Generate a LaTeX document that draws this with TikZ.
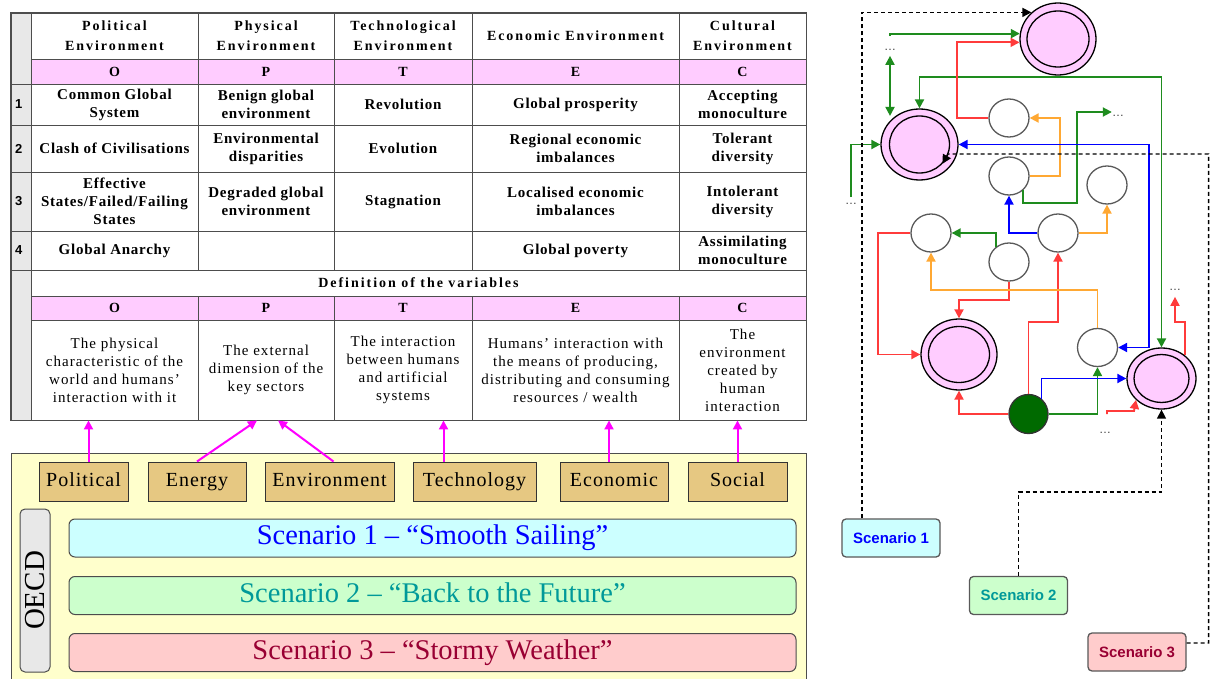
\documentclass[tikz,border=0pt]{standalone}
\usepackage{fontspec}
\setmainfont{Liberation Serif}
\newfontfamily\hdrfont[LetterSpace=14]{Liberation Serif}
\newfontfamily\rowfont[LetterSpace=5]{Liberation Serif}
\newfontfamily\deffont[LetterSpace=7]{Liberation Serif}
\newfontfamily\tanfont[LetterSpace=5]{Liberation Serif}
\newfontfamily\sansf{Liberation Sans}
\usepackage{tikz}
\usetikzlibrary{shapes.geometric, arrows.meta}

\definecolor{tline}{HTML}{4D4D4D}
\definecolor{pinkc}{HTML}{FFCCFF}
\definecolor{greyc}{HTML}{E8E8E8}
\definecolor{yelc}{HTML}{FFFFCC}
\definecolor{tanc}{HTML}{E6C882}
\definecolor{cyanc}{HTML}{CCFFFF}
\definecolor{mintc}{HTML}{CCFFCC}
\definecolor{rosec}{HTML}{FFCCCC}
\definecolor{sconetxt}{HTML}{0000FF}
\definecolor{sctwotxt}{HTML}{009999}
\definecolor{scthreetxt}{HTML}{990033}
\definecolor{cgreen}{HTML}{1E8C1E}
\definecolor{cred}{HTML}{FF3B3B}
\definecolor{corange}{HTML}{FFA833}
\definecolor{cblue}{HTML}{0000FF}
\definecolor{dkgreen}{HTML}{006A00}
\definecolor{cmag}{HTML}{FF00FF}

\begin{document}
\begin{tikzpicture}[
    x=1pt, y=-1pt,
    >={Triangle[length=9pt, width=9pt]},
    tcell/.style = {draw=tline, line width=0.9pt, inner sep=0pt, align=center},
    gcell/.style = {tcell, fill=greyc, minimum width=20pt, text width=12pt,
        align=left, font=\sansf\bfseries\fontsize{13}{15}\selectfont},
    w1/.style = {minimum width=167pt},
    w2/.style = {minimum width=136pt},
    w3/.style = {minimum width=138pt},
    w4/.style = {minimum width=207pt},
    w5/.style = {minimum width=127pt},
    hdr/.style = {font=\hdrfont\bfseries\fontsize{14}{20}\selectfont},
    rtx/.style = {font=\rowfont\bfseries\fontsize{15}{18}\selectfont},
    dtx/.style = {font=\deffont\fontsize{15}{18}\selectfont},
    ltr/.style = {fill=pinkc, font=\bfseries\fontsize{14}{16}\selectfont},
    tanbox/.style = {draw=black!80, fill=tanc, line width=1pt, inner sep=0pt,
        minimum height=39pt, text height=14pt, text depth=4pt,
        font=\tanfont\fontsize{20}{22}\selectfont},
    bar/.style = {draw=black!70, rounded corners=6pt, line width=1pt,
        minimum width=727pt, minimum height=38pt, inner sep=0pt,
        text height=19pt, text depth=6pt,
        font=\fontsize{28.5}{30}\selectfont},
    pinkst/.style = {ellipse, draw=black, line width=1.3pt, fill=pinkc, inner sep=0pt},
    pinkin/.style = {ellipse, draw=black, line width=1.3pt, inner sep=0pt},
    wst/.style = {ellipse, draw=black!65, line width=1.3pt, fill=white,
        minimum width=40pt, minimum height=38pt, inner sep=0pt},
    gst/.style = {circle, draw=black!80, line width=1.3pt, fill=dkgreen,
        minimum size=39pt, inner sep=0pt},
    dotl/.style = {inner sep=0pt, text=black!75, font=\sansf\fontsize{12}{12}\selectfont},
    scbox/.style = {draw=black!65, rounded corners=4pt, line width=1.3pt,
        minimum width=98pt, minimum height=38pt, inner sep=0pt,
        font=\sansf\bfseries\fontsize{15}{17}\selectfont},
    garr/.style = {draw=cgreen, line width=1.9pt},
    rarr/.style = {draw=cred, line width=1.9pt},
    oarr/.style = {draw=corange, line width=1.9pt},
    barr/.style = {draw=cblue, line width=1.9pt},
    darr/.style = {->, draw=black, line width=1.4pt, dash pattern=on 4pt off 3pt},
    marr/.style = {-{Triangle[length=9pt, width=9pt]}, draw=cmag, line width=2pt}
]

\fill[white] (0,0) rectangle (1210,679);
\useasboundingbox (0,0) rectangle (1210,679);

%% ---- TABLE: ROW NUMBER COLUMN ----
\node[gcell, minimum height=71pt]  (gc0) at (21,48.5)  {};
\node[gcell, minimum height=41pt]  (gc1) at (21,104.5) {1};
\node[gcell, minimum height=47pt]  (gc2) at (21,148.5) {2};
\node[gcell, minimum height=59pt]  (gc3) at (21,201.5) {3};
\node[gcell, minimum height=39pt]  (gc4) at (21,250.5) {4};
\node[gcell, minimum height=150pt] (gc5) at (21,345)   {};

%% ---- TABLE: HEADER ----
\node[tcell, w1, hdr, minimum height=46pt] (hO) at (114.5,36) {Political\\Environment};
\node[tcell, w2, hdr, minimum height=46pt] (hP) at (266,36)   {Physical\\Environment};
\node[tcell, w3, hdr, minimum height=46pt] (hT) at (403,36)   {Technological\\Environment};
\node[tcell, w4, hdr, minimum height=46pt] (hE) at (575.5,36) {Economic Environment};
\node[tcell, w5, hdr, minimum height=46pt] (hC) at (742.5,36) {Cultural\\Environment};

%% ---- TABLE: LETTER ROWS ----
\foreach \cx/\cw/\cl in {114.5/167/O, 266/136/P, 403/138/T, 575.5/207/E, 742.5/127/C} {
    \node[tcell, ltr, minimum width=\cw pt, minimum height=25pt] (pa\cl) at (\cx,71.5) {\cl};
    \node[tcell, ltr, minimum width=\cw pt, minimum height=24pt] (pb\cl) at (\cx,308)  {\cl};
}

%% ---- TABLE: ROW 1 ----
\node[tcell, w1, rtx, minimum height=41pt] (r1O) at (114.5,104.5) {Common Global\\System};
\node[tcell, w2, rtx, minimum height=41pt] (r1P) at (266,104.5)   {Benign global\\environment};
\node[tcell, w3, rtx, minimum height=41pt] (r1T) at (403,104.5)   {Revolution};
\node[tcell, w4, rtx, minimum height=41pt] (r1E) at (575.5,104.5) {Global prosperity};
\node[tcell, w5, rtx, minimum height=41pt] (r1C) at (742.5,104.5) {Accepting\\monoculture};

%% ---- TABLE: ROW 2 ----
\node[tcell, w1, rtx, minimum height=47pt] (r2O) at (114.5,148.5) {Clash of Civilisations};
\node[tcell, w2, rtx, minimum height=47pt] (r2P) at (266,148.5)   {Environmental\\disparities};
\node[tcell, w3, rtx, minimum height=47pt] (r2T) at (403,148.5)   {Evolution};
\node[tcell, w4, rtx, minimum height=47pt] (r2E) at (575.5,148.5) {Regional economic\\imbalances};
\node[tcell, w5, rtx, minimum height=47pt] (r2C) at (742.5,148.5) {Tolerant\\diversity};

%% ---- TABLE: ROW 3 ----
\node[tcell, w1, rtx, minimum height=59pt] (r3O) at (114.5,201.5) {Effective\\States/Failed/Failing\\States};
\node[tcell, w2, rtx, minimum height=59pt] (r3P) at (266,201.5)   {Degraded global\\environment};
\node[tcell, w3, rtx, minimum height=59pt] (r3T) at (403,201.5)   {Stagnation};
\node[tcell, w4, rtx, minimum height=59pt] (r3E) at (575.5,201.5) {Localised economic\\imbalances};
\node[tcell, w5, rtx, minimum height=59pt] (r3C) at (742.5,201.5) {Intolerant\\diversity};

%% ---- TABLE: ROW 4 ----
\node[tcell, w1, rtx, minimum height=39pt] (r4O) at (114.5,250.5) {Global Anarchy};
\node[tcell, w2, rtx, minimum height=39pt] (r4P) at (266,250.5)   {};
\node[tcell, w3, rtx, minimum height=39pt] (r4T) at (403,250.5)   {};
\node[tcell, w4, rtx, minimum height=39pt] (r4E) at (575.5,250.5) {Global poverty};
\node[tcell, w5, rtx, minimum height=39pt] (r4C) at (742.5,250.5) {Assimilating\\monoculture};

%% ---- TABLE: DEFINITIONS ----
\node[tcell, hdr, minimum width=775pt, minimum height=26pt] (dtit) at (418.5,283) {Definition of the variables};
\node[tcell, w1, dtx, minimum height=100pt] (dO) at (114.5,370) {The physical\\characteristic of the\\world and humans’\\interaction with it};
\node[tcell, w2, dtx, minimum height=100pt] (dP) at (266,370)   {The external\\dimension of the\\key sectors};
\node[tcell, w3, dtx, minimum height=100pt] (dT) at (403,370)   {The interaction\\between humans\\and artificial\\systems};
\node[tcell, w4, dtx, minimum height=100pt] (dE) at (575.5,370) {Humans’ interaction with\\the means of producing,\\distributing and consuming\\resources / wealth};
\node[tcell, w5, dtx, minimum height=100pt] (dC) at (742.5,370) {The\\environment\\created by\\human\\interaction};

\draw[tline, line width=1.4pt] (gc0.north west) rectangle (dC.south east);

%% ---- OECD PANEL ----
\draw[draw=tline, fill=yelc, line width=1pt] (11,453) rectangle (806,690);

\node[tanbox, minimum width=89pt]  (bPol) at (83.5,481.5)  {Political};
\node[tanbox, minimum width=98pt]  (bEne) at (197,481.5)   {Energy};
\node[tanbox, minimum width=129pt] (bEnv) at (329.5,481.5) {Environment};
\node[tanbox, minimum width=123pt] (bTec) at (474.5,481.5) {Technology};
\node[tanbox, minimum width=108pt] (bEco) at (614,481.5)   {Economic};
\node[tanbox, minimum width=99pt]  (bSoc) at (737.5,481.5) {Social};

\node[draw=black!70, fill=greyc, rounded corners=5pt, line width=1pt, rotate=90,
      minimum width=163pt, minimum height=30pt, inner sep=0pt,
      font=\fontsize{29}{30}\selectfont] (oecd) at (35,590.5) {OECD};

\node[bar, fill=cyanc, text=sconetxt]   (bar1) at (432.5,538)   {Scenario 1 – “Smooth Sailing”};
\node[bar, fill=mintc, text=sctwotxt]   (bar2) at (432.5,595.5) {Scenario 2 – “Back to the Future”};
\node[bar, fill=rosec, text=scthreetxt] (bar3) at (432.5,652.5) {Scenario 3 – “Stormy Weather”};

%% ---- MAGENTA LINKS ----
\draw[marr] ([xshift=5pt]bPol.north) -- ([xshift=5pt]bPol.north |- dO.south);
\draw[marr] (bEne.north) -- ([xshift=-9pt]dP.south);
\draw[marr] ([xshift=4pt]bEnv.north) -- ([xshift=12pt]dP.south);
\draw[marr] ([xshift=-31pt]bTec.north) -- ([xshift=-31pt]bTec.north |- dT.south);
\draw[marr] ([xshift=-5pt]bEco.north) -- ([xshift=-5pt]bEco.north |- dE.south);
\draw[marr] (bSoc.north) -- (bSoc.north |- dC.south);

%% ---- STATE GRAPH: NODES ----
\node[pinkst, minimum width=76pt, minimum height=72pt] (s1) at (1058,39) {};
\node[pinkin, minimum width=62pt, minimum height=56pt] (s1in) at (s1) {};
\node[pinkst, minimum width=77pt, minimum height=71pt] (s2) at (919.5,144.5) {};
\node[pinkin, minimum width=60pt, minimum height=57pt] (s2in) at (s2) {};
\node[pinkst, minimum width=76pt, minimum height=71pt] (s3) at (959,354.5) {};
\node[pinkin, minimum width=61pt, minimum height=56pt] (s3in) at (s3) {};
\node[pinkst, minimum width=69pt, minimum height=61pt] (s4) at (1161.5,378.5) {};
\node[pinkin, minimum width=55pt, minimum height=48pt] (s4in) at (s4) {};

\node[wst] (a) at (1009,118) {};
\node[wst] (b) at (1009,176) {};
\node[wst] (c) at (1107,185) {};
\node[wst] (d) at (931,233) {};
\node[wst] (e) at (1009,262) {};
\node[wst] (f) at (1058,233) {};
\node[wst] (h) at (1097.5,347.5) {};
\node[gst] (core) at (1028.5,414) {};

\node[dotl] (dt1) at (890,50)   {…};
\node[dotl] (dt2) at (1118,116) {…};
\node[dotl] (dt3) at (851,204)  {…};
\node[dotl] (dt4) at (1175,290) {…};
\node[dotl] (dt5) at (1105,433) {…};

\node[scbox, fill=cyanc, text=sconetxt]   (sc1) at (891,538)    {Scenario 1};
\node[scbox, fill=mintc, text=sctwotxt]   (sc2) at (1018.5,595.5) {Scenario 2};
\node[scbox, fill=rosec, text=scthreetxt] (sc3) at (1137,652)   {Scenario 3};

%% ---- STATE GRAPH: GREEN ----
\draw[garr, ->, shorten <=13pt] (dt1.north) |- (s1.172);
\draw[garr, <->, shorten <=5pt] (dt1.south) -- (dt1.south |- s2.130);
\draw[garr, <->] (s2.north) -- ++(0,-31) -| (s4.north);
\draw[garr, ->] (b.-45) -- ++(0,13) -| (1077,112) -- ([yshift=4pt]dt2.west);
\draw[garr, ->, shorten <=6pt] (dt3.north) |- (s2.west);
\draw[garr, ->] (e.130) |- (d.east);
\draw[garr, ->] (core.east) -| (h.south);

%% ---- STATE GRAPH: RED ----
\draw[rarr, ->] (a.west) -- ++(-31,0) |- (s1.185);
\draw[rarr, ->] (d.west) -- ++(-32,0) |- (s3.west);
\draw[rarr, ->] (e.south) -- ++(0,18) -| (s3.north);
\draw[rarr, ->] (core.west) -| (s3.south);
\draw[rarr, ->] (core.north) -- ++(0,-72) -| (f.south);
\draw[rarr, ->, shorten >=6pt] (s4.45) -- ++(0,-33) -| (dt4.south);
\coordinate (r7) at (1107,414);
\draw[rarr, ->] (r7) -- ++(0,-3) -- ++(27,0) -- (s4.220);

%% ---- STATE GRAPH: ORANGE ----
\draw[oarr, ->] (b.east) -- ++(30,0) |- (a.east);
\draw[oarr, ->] (f.east) -| (c.south);
\draw[oarr, ->] (h.north) -- ++(0,-38) -| (d.south);

%% ---- STATE GRAPH: BLUE ----
\draw[barr, <->] (s2.east) -- ++(190,0) |- (h.east);
\draw[barr, ->] (f.west) -| (b.south);
\draw[barr, ->] (core.50) |- (s4.west);

%% ---- SCENARIO LINKS ----
\draw[darr] ([xshift=-29pt]sc1.north) |- (s1.135);
\draw[darr] (sc2.north) -- ++(0,-84) -| (s4.south);
\draw[darr] ([yshift=9pt]sc3.east) -- ++(22,0) |- (948,154) -- (s2in.-40);

\end{tikzpicture}
\end{document}
